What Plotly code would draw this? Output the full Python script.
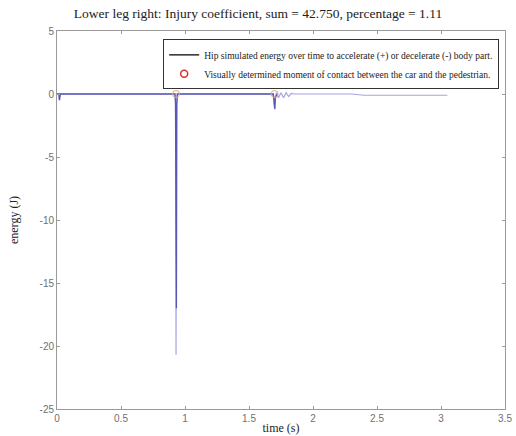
import plotly.graph_objects as go

# Light (outer) energy trace
t_light = [0.0, 0.012, 0.018, 0.024, 0.03, 0.92, 0.926, 0.930, 0.934, 0.94, 0.95,
           1.68, 1.695, 1.700, 1.705, 1.715, 1.73, 1.75, 1.77, 1.79, 1.81, 1.83, 1.85, 1.88,
           2.30, 2.40, 3.05]
e_light = [0.0, 0.0, -0.5, 0.0, 0.0, 0.0, -0.6, -20.7, -1.0, 0.0, 0.0,
           0.0, -0.2, -1.0, -0.3, 0.1, -0.3, 0.1, -0.3, 0.1, -0.2, 0.05, 0.0, 0.0,
           0.0, -0.1, -0.1]
# Dark (inner) energy trace
t_dark = [0.0, 0.015, 0.02, 0.025, 0.91, 0.922, 0.926, 0.928, 0.930, 0.933, 0.936, 0.94, 0.95,
          1.69, 1.698, 1.702, 1.706, 1.72]
e_dark = [0.0, 0.0, -0.5, 0.0, 0.0, 0.0, -0.8, -17.0, -3.0, -17.0, -0.8, 0.0, 0.0,
          0.0, -0.9, -1.2, -0.3, 0.0]
# Contact moments
t_contact = [0.93, 1.70]
e_contact = [0.0, 0.0]

title_text = "Lower leg right: Injury coefficient, sum = 42.750, percentage = 1.11"
legend_labels = ["Hip simulated energy over time to accelerate (+) or decelerate (-) body part.",
                 "Visually determined moment of contact between the car and the pedestrian."]
x_ticks = [0, 0.5, 1, 1.5, 2, 2.5, 3, 3.5]
y_ticks = [5, 0, -5, -10, -15, -20, -25]

fig = go.Figure()
fig.add_trace(go.Scatter(x=t_light, y=e_light, mode="lines",
                         line=dict(color="#a4a4e4", width=1.2), showlegend=False))
fig.add_trace(go.Scatter(x=t_dark, y=e_dark, mode="lines",
                         line=dict(color="#5858b4", width=1.3), showlegend=False))
fig.add_trace(go.Scatter(x=t_contact, y=e_contact, mode="markers",
                         marker=dict(symbol="circle-open", size=7, color="#e8a878",
                                     line=dict(width=1)), showlegend=False))
# legend-only entries
fig.add_trace(go.Scatter(x=[None], y=[None], mode="lines", name=legend_labels[0],
                         line=dict(color="black", width=1.2)))
fig.add_trace(go.Scatter(x=[None], y=[None], mode="markers", name=legend_labels[1],
                         marker=dict(symbol="circle-open", size=7, color="#d83030",
                                     line=dict(width=1.5))))

axis_common = dict(showline=True, linecolor="#9a9a9a", linewidth=1, mirror="ticks",
                   ticks="inside", ticklen=3, tickcolor="#9a9a9a", showgrid=False,
                   zeroline=False, ticklabeloverflow="allow",
                   tickfont=dict(family="Liberation Sans", size=10, color="#707070"))

fig.update_layout(
    width=516, height=436,
    margin=dict(l=57, r=4, t=31, b=27),
    paper_bgcolor="white", plot_bgcolor="white",
    title=dict(text=title_text, x=0.5, xanchor="center", y=0.97, yanchor="middle",
               font=dict(family="Liberation Serif", size=13.5, color="#222")),
    xaxis=dict(range=[0, 3.5], tickvals=x_ticks, ticktext=[str(v) for v in x_ticks],
               title=dict(text="time (s)", standoff=0,
                          font=dict(family="Liberation Serif", size=12, color="#222")),
               **axis_common),
    yaxis=dict(range=[-25, 5], tickvals=y_ticks, ticktext=[str(v) for v in y_ticks],
               title=dict(text="energy (J)", standoff=18,
                          font=dict(family="Liberation Serif", size=12, color="#222")),
               **axis_common),
    legend=dict(x=0.237, y=0.978, xanchor="left", yanchor="top",
                bgcolor="white", bordercolor="#333", borderwidth=1,
                font=dict(family="Liberation Serif", size=9.5, color="#222"),
                tracegroupgap=0, itemwidth=30),
)

fig.write_html("out.html")
